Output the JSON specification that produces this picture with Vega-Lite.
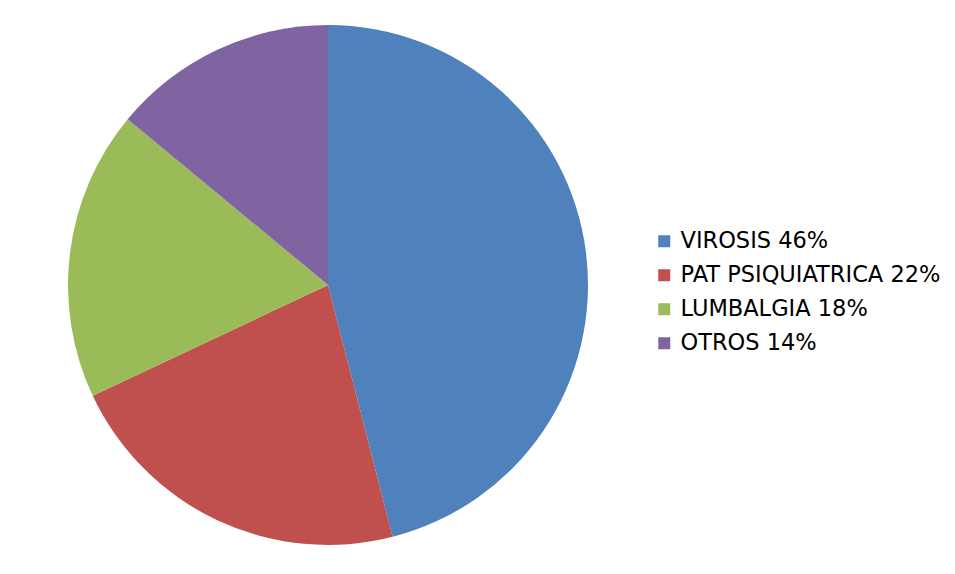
{
  "$schema": "https://vega.github.io/schema/vega-lite/v6.json",
  "autosize": {"type": "pad"},
  "width": 642,
  "height": 562,
  "padding": {"left": 7, "top": 4, "right": 0, "bottom": 0},
  "background": "white",
  "config": {"view": {"stroke": null}},
  "data": {
    "values": [
      {"category": "VIROSIS 46%", "value": 46, "rank": 1},
      {"category": "PAT PSIQUIATRICA 22%", "value": 22, "rank": 2},
      {"category": "LUMBALGIA 18%", "value": 18, "rank": 3},
      {"category": "OTROS 14%", "value": 14, "rank": 4}
    ]
  },
  "mark": {"type": "arc", "outerRadius": 260},
  "encoding": {
    "theta": {"field": "value", "type": "quantitative", "stack": true},
    "order": {"field": "rank", "type": "quantitative"},
    "color": {
      "field": "category",
      "type": "nominal",
      "sort": ["VIROSIS 46%", "PAT PSIQUIATRICA 22%", "LUMBALGIA 18%", "OTROS 14%"],
      "scale": {
        "domain": ["VIROSIS 46%", "PAT PSIQUIATRICA 22%", "LUMBALGIA 18%", "OTROS 14%"],
        "range": ["#4F81BD", "#C0504D", "#9BBB59", "#8064A2"]
      },
      "legend": {
        "title": null,
        "orient": "none",
        "legendX": 646,
        "legendY": 226,
        "symbolType": "square",
        "symbolSize": 144,
        "symbolStrokeWidth": 0,
        "labelFont": "DejaVu Sans",
        "labelFontSize": 22.5,
        "labelColor": "#000000",
        "labelOffset": 5,
        "rowPadding": 11,
        "labelLimit": 400
      }
    }
  }
}
